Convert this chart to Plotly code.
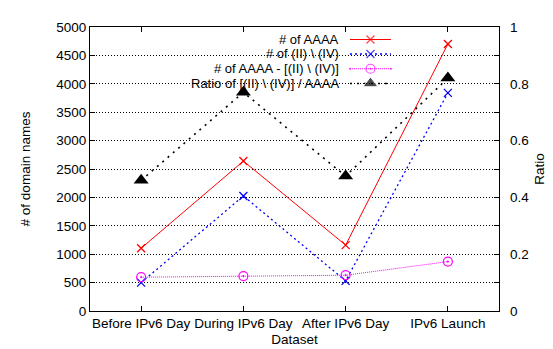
import plotly.graph_objects as go

categories = ["Before IPv6 Day", "During IPv6 Day", "After IPv6 Day", "IPv6 Launch"]
aaaa = [1105, 2640, 1160, 4700]
ii_iv = [500, 2025, 530, 3840]
aaaa_minus = [595, 615, 630, 870]
ratio = [0.46, 0.77, 0.475, 0.82]

names = ["# of AAAA", "# of (II) \\ (IV)", "# of AAAA - [(II) \\ (IV)]", "Ratio of [(II) \\ (IV)] / AAAA"]
left_ticks = list(range(0, 5001, 500))
right_ticks = [0, 0.2, 0.4, 0.6, 0.8, 1]

FONT = "Liberation Sans, Arial, sans-serif"
FS = 13.5
xs = list(range(len(categories)))

styles = [
    dict(line=dict(color="#ff0000", width=1, dash="solid"),
         marker=dict(symbol="x-thin-open", size=8, color="#ff0000", line=dict(color="#ff0000", width=1.3))),
    dict(line=dict(color="#0000ff", width=1.3, dash="2px,3px"),
         marker=dict(symbol="x-thin-open", size=8, color="#0000ff", line=dict(color="#0000ff", width=1.3))),
    dict(line=dict(color="#ff00ff", width=1, dash="1px,1px"),
         marker=dict(symbol="circle-open-dot", size=9, color="#ff00ff", line=dict(color="#ff00ff", width=1.2))),
    dict(line=dict(color="#000000", width=1.6, dash="2px,5px"),
         marker=dict(symbol="triangle-up", size=13, color="#000000")),
]

fig = go.Figure()
series = [aaaa, ii_iv, aaaa_minus]
for i, s in enumerate(series):
    fig.add_trace(go.Scatter(x=xs, y=s, mode="lines+markers", name=names[i],
                             showlegend=False, **styles[i]))
fig.add_trace(go.Scatter(x=xs, y=ratio, mode="lines+markers", name=names[3],
                         yaxis="y2", showlegend=False, **styles[3]))

# gnuplot-style key: right-aligned text, sample to the right
key_rows = [0.956, 0.905, 0.853, 0.801]
key_text_x = 0.6137
key_x0, key_x1 = 0.6357, 0.7359
for i, n in enumerate(names):
    fig.add_annotation(x=key_text_x, y=key_rows[i], xref="paper", yref="paper",
                       text=n, showarrow=False, xanchor="right", yanchor="middle",
                       font=dict(family=FONT, size=13, color="#000000"))
    st = styles[i]
    fig.add_trace(go.Scatter(x=[key_x0, (key_x0 + key_x1) / 2, key_x1],
                             y=[key_rows[i]] * 3, mode="lines+markers",
                             xaxis="x3", yaxis="y3", showlegend=False, hoverinfo="skip",
                             line=st["line"],
                             marker=dict(st["marker"], size=[0, st["marker"]["size"], 0])))

# white key box hides grid behind the key
fig.add_shape(type="rect", xref="paper", yref="paper", x0=0.003, x1=0.75, y0=0.75, y1=0.997,
              fillcolor="white", line=dict(width=0), layer="between")

fig.update_layout(
    width=553, height=349,
    margin=dict(l=82, r=62, t=15, b=44),
    paper_bgcolor="white", plot_bgcolor="white",
    font=dict(family=FONT, size=FS, color="#000000"),
    xaxis=dict(tickmode="array", tickvals=xs, ticktext=categories, range=[-0.5, 3.5],
               tickangle=0, tickfont=dict(size=FS),
               showline=True, linecolor="black", linewidth=1, mirror="ticks",
               ticks="inside", ticklen=5, tickcolor="black", showgrid=False, zeroline=False,
               title=dict(text="Dataset", standoff=4, font=dict(size=FS))),
    yaxis=dict(range=[0, 5000], tickvals=left_ticks, showline=True, linecolor="black", linewidth=1,
               mirror="ticks", ticks="inside", ticklen=5, tickcolor="black", tickfont=dict(size=FS),
               showgrid=True, gridcolor="black", gridwidth=1, griddash="1px,2px", zeroline=False,
               title=dict(text="# of domain names", standoff=22, font=dict(size=FS))),
    yaxis2=dict(range=[0, 1], tickvals=right_ticks, overlaying="y", side="right",
                showgrid=False, zeroline=False, ticks="", showline=False,
                ticklabelstandoff=10, tickfont=dict(size=FS),
                title=dict(text="Ratio", standoff=6, font=dict(size=FS))),
    xaxis3=dict(range=[0, 1], overlaying="x", visible=False, fixedrange=True),
    yaxis3=dict(range=[0, 1], overlaying="y", visible=False, fixedrange=True),
)

fig.write_html("out.html")
